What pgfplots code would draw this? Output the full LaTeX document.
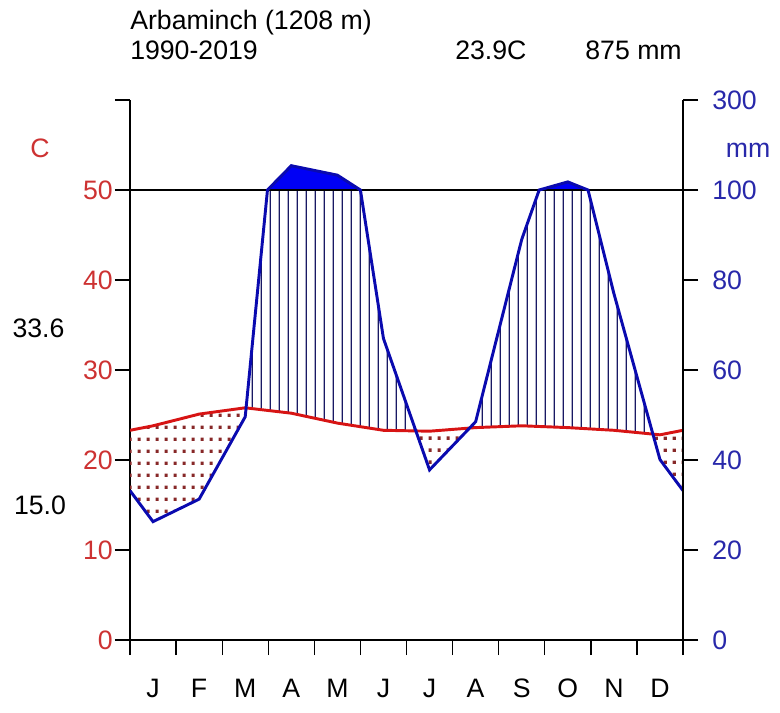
\documentclass[border=0pt]{standalone}
\usepackage{fontspec}
\setmainfont{Liberation Sans}
\usepackage{pgfplots}
\pgfplotsset{compat=1.18}
\usepackage{pgfplotstable}
\usepgfplotslibrary{fillbetween}
\usetikzlibrary{patterns}
\definecolor{tred}{RGB}{215,20,20}
\definecolor{pblue}{RGB}{10,10,175}
\definecolor{hatch}{RGB}{25,25,100}
\definecolor{dotred}{RGB}{135,40,40}
\definecolor{lred}{RGB}{205,50,50}
\definecolor{rblue}{RGB}{40,40,170}
\definecolor{sblue}{RGB}{0,0,245}
\newcommand\f{\fontsize{20}{24}\selectfont}
\pgfdeclarepatternformonly{wvlines}{\pgfpoint{0pt}{0pt}}{\pgfpoint{6.9pt}{4pt}}{\pgfpoint{6.9pt}{4pt}}{%
 \pgfsetlinewidth{0.9pt}\pgfpathmoveto{\pgfpoint{3.45pt}{-1pt}}\pgfpathlineto{\pgfpoint{3.45pt}{5pt}}\pgfusepath{stroke}}
\pgfdeclarepatternformonly{wdots}{\pgfpoint{0pt}{0pt}}{\pgfpoint{6.8pt}{9.2pt}}{\pgfpoint{6.8pt}{9.2pt}}{%
 \pgfpathrectangle{\pgfpoint{2.1pt}{3.3pt}}{\pgfpoint{2.6pt}{2.6pt}}\pgfusepath{fill}}

\pgfplotstableread{
x T
0 23.3
0.5 23.8
1.5 25.1
2.5 25.8
3.5 25.2
4.5 24.1
5.5 23.3
6.5 23.2
7.5 23.6
8.5 23.8
9.5 23.6
10.5 23.3
11.5 22.8
12 23.3
}\tempdata
\pgfplotstableread{
x p
0 33.2
0.5 26.3
1.5 31.3
2.5 49.6
2.983 100
3.5 154
4.5 133
5.0 100
5.5 67
6.5 37.8
7.5 48.5
8.5 89
8.879 100
9.5 118
9.939 100
10.5 77
11.5 40.1
12 33.2
}\precdata

\begin{document}
\begin{tikzpicture}
\begin{axis}[
 at={(0,0)}, anchor=south west,
 scale only axis, width=414.75pt, height=405pt,
 xmin=0, xmax=12, ymin=0, ymax=60,
 axis x line*=bottom, axis y line*=left,
 axis line style={-, line width=1pt},
 tick align=outside, major tick length=11.25pt,
 every tick/.style={black, line width=1pt},
 xtick={0,1,2,3,4,5,6,7,8,9,10,11,12},
 xticklabels={},
 extra x ticks={0.5,1.5,2.5,3.5,4.5,5.5,6.5,7.5,8.5,9.5,10.5,11.5},
 extra x tick labels={J,F,M,A,M,J,J,A,S,O,N,D},
 extra x tick style={major tick length=0pt, tick style={draw=none}},
 xticklabel style={font=\f, anchor=base, inner sep=0pt, yshift=-42.75pt},
 ytick={0,10,20,30,40,50,60},
 yticklabels={0,10,20,30,40,50,{}},
 yticklabel style={font=\f, text=lred, anchor=east, inner sep=0pt, xshift=-1.5pt},
 /pgf/number format/assume math mode=true,
]
\addplot[draw=none, name path=T] table[x=x,y=T]{\tempdata};
\addplot[draw=none, name path=Pc] table[x=x, y expr={min(\thisrow{p}/2,50)}]{\precdata};
\addplot[draw=none, name path=Pf] table[x=x, y expr={ifthenelse(\thisrow{p}>100,50+(\thisrow{p}-100)/20,\thisrow{p}/2)}]{\precdata};
\addplot fill between[of=T and Pc, split,
  every even segment/.style={pattern=wdots, pattern color=dotred},
  every odd segment/.style={pattern=wvlines, pattern color=hatch}];
\addplot[fill=sblue, draw=none] fill between[of=Pf and Pc];
\addplot[black, line width=1pt] coordinates {(0,50) (12,50)};
\addplot[tred, line width=2.2pt] table[x=x,y=T]{\tempdata};
\addplot[pblue, line width=2.2pt] table[x=x, y expr={ifthenelse(\thisrow{p}>100,50+(\thisrow{p}-100)/20,\thisrow{p}/2)}]{\precdata};
\end{axis}
\begin{axis}[
 at={(0,0)}, anchor=south west,
 scale only axis, width=414.75pt, height=405pt,
 xmin=0, xmax=12, ymin=0, ymax=60,
 hide x axis, axis y line*=right,
 axis line style={-, line width=1pt},
 tick align=outside, major tick length=11.25pt,
 every tick/.style={black, line width=1pt},
 ytick={0,10,20,30,40,50,60},
 yticklabels={0,20,40,60,80,100,300},
 yticklabel style={font=\f, text=rblue, anchor=west, inner sep=0pt, xshift=10.5pt},
]
\addplot[draw=none] coordinates {(0,0) (12,60)};
\end{axis}
\node[anchor=base west, inner sep=0pt, font=\f] at (0pt,457.5pt) {Arbaminch (1208 m)};
\node[anchor=base west, inner sep=0pt, font=\f] at (0pt,435pt) {1990-2019};
\node[anchor=base west, inner sep=0pt, font=\f] at (243.75pt,435pt) {23.9C};
\node[anchor=base east, inner sep=0pt, font=\f] at (414pt,435pt) {875 mm};
\node[inner sep=0pt, font=\f, text=lred] at (-67.5pt,369pt) {C};
\node[inner sep=0pt, font=\f, text=rblue] at (463.5pt,367.5pt) {mm};
\node[inner sep=0pt, font=\f] at (-68.6pt,234pt) {33.6};
\node[inner sep=0pt, font=\f] at (-67.5pt,101.25pt) {15.0};
\path (-97.5pt,-44.25pt) rectangle (487.5pt,480pt);
\end{tikzpicture}
\end{document}
